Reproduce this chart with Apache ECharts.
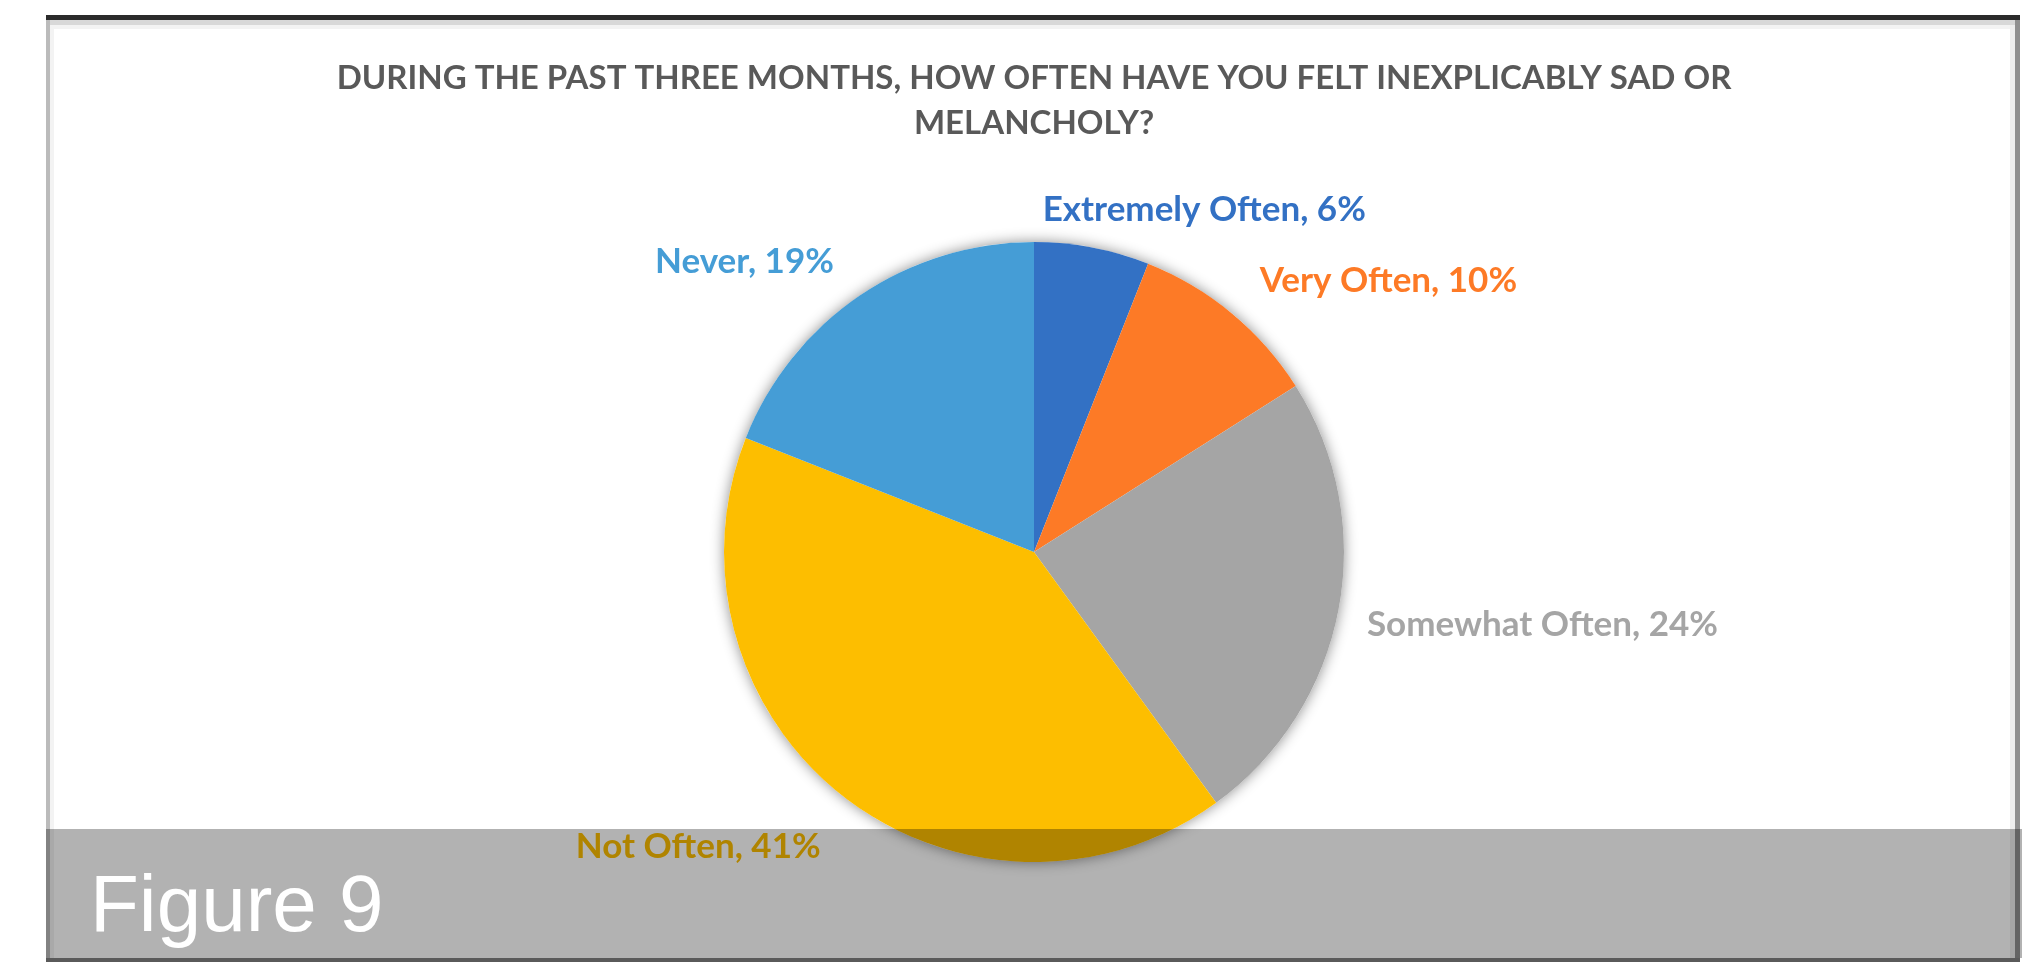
<!DOCTYPE html>
<html>
<head>
<meta charset="utf-8">
<title>Melancholy survey pie</title>
<script src="https://cdn.jsdelivr.net/npm/echarts@6/dist/echarts.min.js"></script>
<style>
  html, body { margin: 0; padding: 0; background: #ffffff; }
  #chart { width: 2022px; height: 962px; }
</style>
</head>
<body>
<div id="chart"></div>
<script>
// Survey answers, clockwise from twelve o'clock
const categories = ['Extremely Often', 'Very Often', 'Somewhat Often', 'Not Often', 'Never'];
const shares = [6, 10, 24, 41, 19]; // percent of respondents
const sliceColors = ['#3371C4', '#FD7A26', '#A5A5A5', '#FDBE00', '#459DD6'];
const titleLines = ['DURING THE PAST THREE MONTHS, HOW OFTEN HAVE YOU FELT INEXPLICABLY SAD OR', 'MELANCHOLY?'];
const figureCaption = 'Figure 9';

// Small label nudges so each label sits where a "best fit" layout puts it
const labelNudges = [[-60, -8], [4, -9], [-6, 9], [0, 26], [-4, -9]];

const FONT = 'Lato, "Liberation Sans", sans-serif';
const PIE_CENTER = [1034, 552];
const PIE_RADIUS = 310;

const chart = echarts.init(document.getElementById('chart'), null, { renderer: 'canvas' });

const pieData = categories.map((name, i) => ({
  name: name,
  value: shares[i],
  itemStyle: { color: sliceColors[i] },
  label: { color: sliceColors[i] }
}));

const option = {
  backgroundColor: '#ffffff',
  animation: false,
  series: [
    {
      // soft drop shadow behind the whole disc
      type: 'pie',
      silent: true,
      z: 1,
      center: PIE_CENTER,
      radius: PIE_RADIUS,
      label: { show: false },
      labelLine: { show: false },
      itemStyle: {
        color: '#ffffff',
        borderWidth: 0,
        shadowBlur: 14,
        shadowColor: 'rgba(0,0,0,0.45)',
        shadowOffsetX: 0,
        shadowOffsetY: 0
      },
      data: [{ name: 'all', value: shares.reduce((a, b) => a + b, 0) }]
    },
    {
      type: 'pie',
      z: 2,
      center: PIE_CENTER,
      radius: PIE_RADIUS,
      startAngle: 90,
      clockwise: true,
      avoidLabelOverlap: false,
      itemStyle: { borderWidth: 0 },
      label: {
        show: true,
        position: 'outside',
        fontFamily: FONT,
        fontWeight: 'bold',
        fontSize: 35,
        distanceToLabelLine: 5,
        formatter: (p) => p.name + ', ' + p.value + '%'
      },
      labelLine: { show: false, length: 30, length2: 0 },
      labelLayout: (params) => {
        const n = labelNudges[params.dataIndex] || [0, 0];
        return { dx: n[0], dy: n[1] };
      },
      data: pieData
    }
  ],
  graphic: [
    // frame
    { type: 'rect', z: 0, shape: { x: 46, y: 15, width: 1974, height: 5 }, style: { fill: '#2b2b2b' }, silent: true },
    { type: 'rect', z: 0, shape: { x: 46, y: 20, width: 1969, height: 5 }, style: { fill: '#d8d8d8' }, silent: true },
    { type: 'rect', z: 0, shape: { x: 50, y: 25, width: 1960, height: 4 }, style: { fill: '#f3f3f3' }, silent: true },
    { type: 'rect', z: 0, shape: { x: 46, y: 20, width: 4, height: 942 }, style: { fill: '#bbbbbb' }, silent: true },
    { type: 'rect', z: 0, shape: { x: 50, y: 25, width: 4, height: 937 }, style: { fill: '#f3f3f3' }, silent: true },
    { type: 'rect', z: 0, shape: { x: 2010, y: 25, width: 5, height: 937 }, style: { fill: '#eeeeee' }, silent: true },
    { type: 'rect', z: 0, shape: { x: 2015, y: 20, width: 5, height: 942 }, style: { fill: '#909090' }, silent: true },
    // chart title
    {
      type: 'text', z: 10, silent: true,
      style: {
        x: 1034, y: 78, text: titleLines[0],
        fill: '#595959', font: 'bold 33px ' + FONT,
        align: 'center', verticalAlign: 'middle'
      }
    },
    {
      type: 'text', z: 10, silent: true,
      style: {
        x: 1034, y: 123, text: titleLines[1],
        fill: '#595959', font: 'bold 33px ' + FONT,
        align: 'center', verticalAlign: 'middle'
      }
    },
    // caption band laid over the bottom of the chart
    {
      type: 'rect', z: 100, silent: true,
      shape: { x: 46, y: 829, width: 1976, height: 129 },
      style: { fill: 'rgba(0,0,0,0.3)' }
    },
    {
      type: 'rect', z: 100, silent: true,
      shape: { x: 46, y: 958, width: 1974, height: 4 },
      style: { fill: '#5a5a5a' }
    },
    {
      type: 'text', z: 101, silent: true,
      style: {
        x: 90, y: 909, text: figureCaption,
        fill: '#ffffff', font: '80px "Liberation Sans", Arial, sans-serif',
        align: 'left', verticalAlign: 'middle'
      }
    }
  ]
};

chart.setOption(option);
</script>
</body>
</html>
